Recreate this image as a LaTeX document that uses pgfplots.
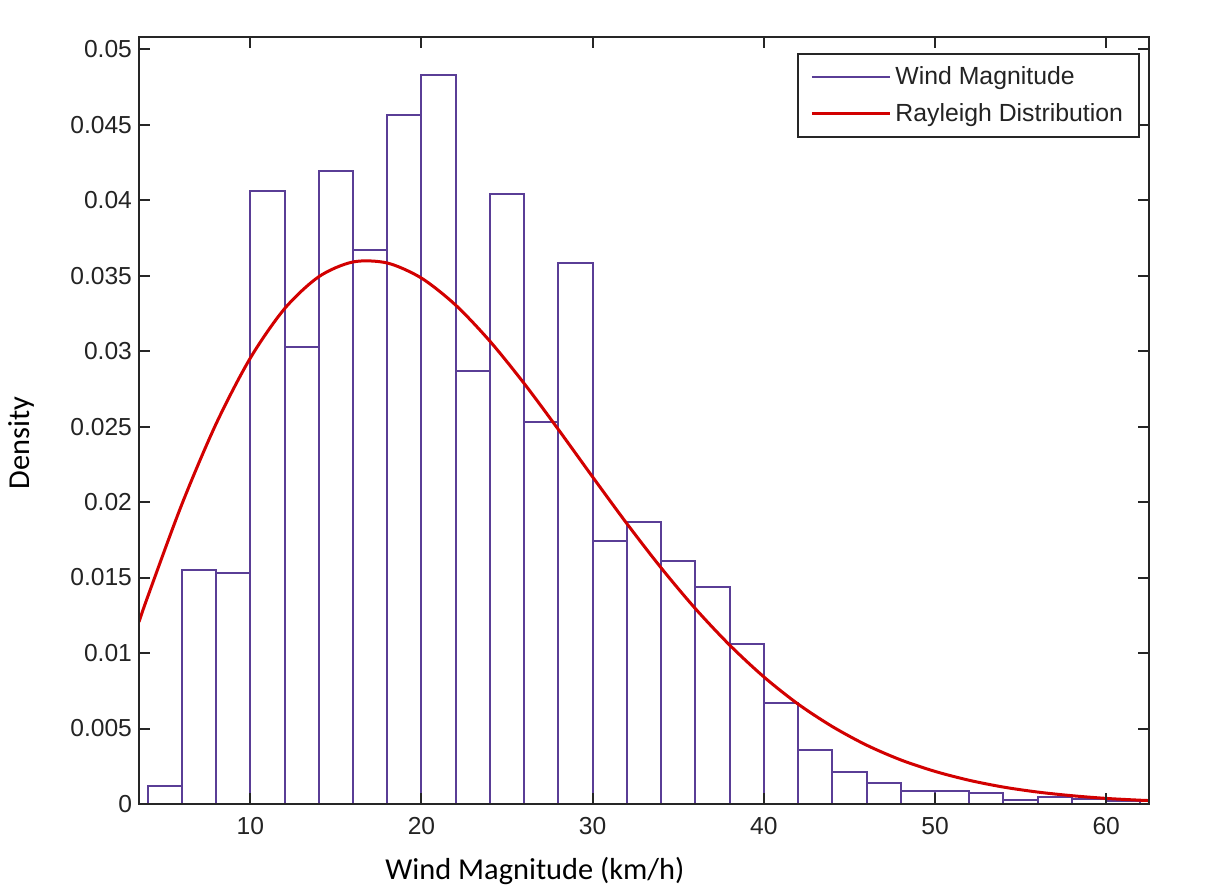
\documentclass[border=0pt]{standalone}
\usepackage{pgfplots}
\pgfplotsset{compat=1.18}
\usepackage{fontspec}
\setmainfont{Liberation Sans}
\newfontfamily\calibri{Carlito}
\definecolor{barc}{RGB}{90,62,150}
\definecolor{curvec}{RGB}{210,0,0}
\definecolor{txt}{RGB}{35,35,35}
\pgfplotsset{mylegline/.style={legend image code/.code={\draw[##1] (0pt,0pt) -- (39pt,0pt);}}}
\begin{document}
\begin{tikzpicture}
\begin{axis}[
  name=ax,
  scale only axis, width=505pt, height=383.5pt,
  xmin=3.5, xmax=62.5, ymin=0, ymax=0.0508,
  axis on top,
  scaled y ticks=false, scaled x ticks=false,
  xtick={10,20,30,40,50,60},
  xticklabels={10,20,30,40,50,60},
  ytick={0,0.005,0.01,0.015,0.02,0.025,0.03,0.035,0.04,0.045,0.05},
  yticklabels={0,0.005,0.01,0.015,0.02,0.025,0.03,0.035,0.04,0.045,0.05},
  tick label style={font=\fontsize{12.3}{14}\selectfont, text=txt},
  xticklabel style={inner sep=0pt, anchor=north, yshift=-6.5pt},
  axis line style={line width=1pt, black!85},
  tick style={line width=1pt, black!85},
  major tick length=5.5pt,
  xlabel={\calibri Wind Magnitude (km/h)},
  xlabel style={at={(axis description cs:0.392,-0.099)}, anchor=base, inner sep=0pt, font=\fontsize{15.2}{18}\selectfont, text=black},
  ylabel={\calibri Density},
  ylabel style={at={(axis description cs:-0.116,0.4707)}, anchor=center, font=\fontsize{15.2}{18}\selectfont, text=black},
  legend style={at={(0.991,0.9795)}, anchor=north east, draw=black!85, line width=1pt,
    font=\fontsize{12.4}{15}\selectfont, text=txt, cells={anchor=west},
    inner xsep=6pt, inner ysep=4.5pt, row sep=3.8pt},
]
\addlegendimage{mylegline, draw=barc, line width=0.9pt}
\addlegendentry{Wind Magnitude}
\addplot[ybar interval, draw=barc, fill=white, line width=1pt, forget plot] coordinates {
(4,0.0012) (6,0.0155) (8,0.0153) (10,0.0406) (12,0.0303) (14,0.0419)
(16,0.0367) (18,0.0456) (20,0.0483) (22,0.0287) (24,0.0404) (26,0.0253)
(28,0.0358) (30,0.0174) (32,0.0187) (34,0.0161) (36,0.0144) (38,0.0106)
(40,0.0067) (42,0.0036) (44,0.0021) (46,0.0014) (48,0.00087) (50,0.00087)
(52,0.00075) (54,0.00024) (56,0.00045) (58,0.00035) (60,0.0002) (62,0.0002)
};
\addplot[mylegline, curvec, line width=1.5pt, smooth] coordinates {
(3.5,0.01206) (4,0.01370) (6,0.01984) (8,0.02517) (10,0.02953) (12,0.03280)
(14,0.03492) (16,0.03590) (18,0.03583) (20,0.03483) (22,0.03304) (24,0.03065)
(26,0.02785) (28,0.02480) (30,0.02166) (32,0.01857) (34,0.01564) (36,0.01294)
(38,0.01053) (40,0.00842) (42,0.00662) (44,0.00513) (46,0.00390) (48,0.00292)
(50,0.00216) (52,0.00157) (54,0.00112) (56,0.00079) (58,0.00055) (60,0.00037)
(62,0.00025) (62.5,0.00023)
};
\addlegendentry{Rayleigh Distribution}
\end{axis}
\pgfresetboundingbox
\path ([shift={(-69.5pt,-42.5pt)}]ax.south west) rectangle ([shift={(32.5pt,18.5pt)}]ax.north east);
\end{tikzpicture}
\end{document}
